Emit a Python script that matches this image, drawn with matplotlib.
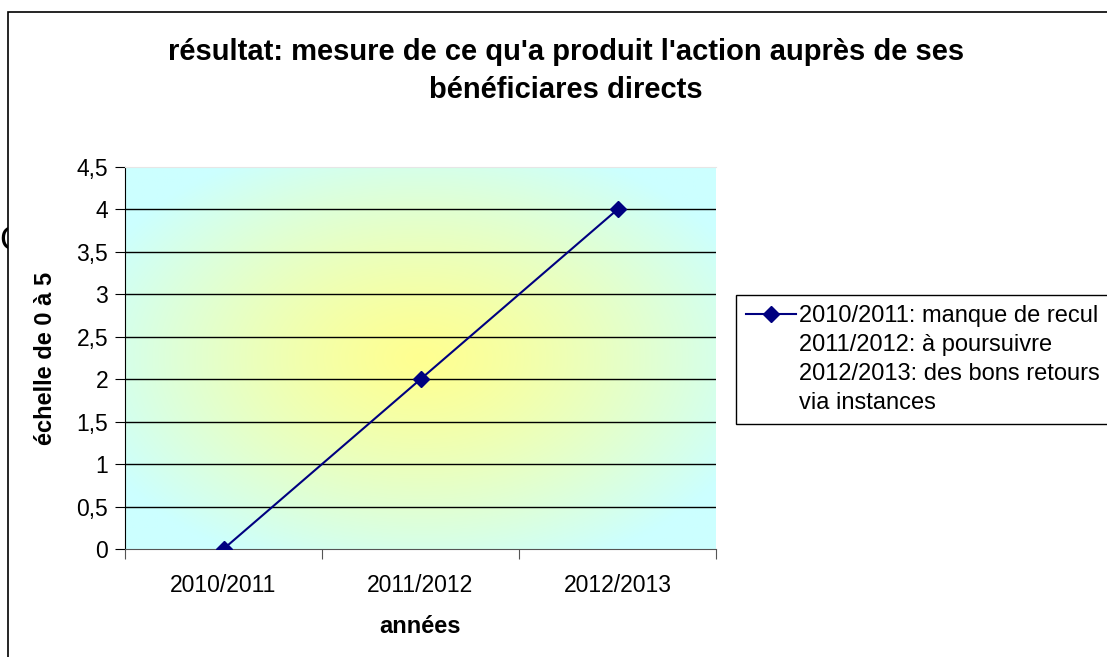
import matplotlib
matplotlib.use("Agg")
import matplotlib.pyplot as plt
from matplotlib.patches import Rectangle
from matplotlib.lines import Line2D
import numpy as np

plt.rcParams['font.family'] = ['Liberation Sans', 'DejaVu Sans']

years = ['2010/2011', '2011/2012', '2012/2013']
scores = [0, 2, 4]
y_ticks = [0, 0.5, 1, 1.5, 2, 2.5, 3, 3.5, 4, 4.5]
y_labels = ['0', '0,5', '1', '1,5', '2', '2,5', '3', '3,5', '4', '4,5']
legend_lines = ['2010/2011: manque de recul', '2011/2012: à poursuivre',
                '2012/2013: des bons retours', 'via instances']
title = ("résultat: mesure de ce qu'a produit l'action auprès de ses\n"
         "bénéficiares directs")

W, H = 1107, 657
fig = plt.figure(figsize=(W / 100, H / 100), dpi=100)

# stray letter behind the chart box, then the chart box itself
fig.text(-1 / W, 1 - 241 / H, 'C', fontsize=25, ha='left', va='center', zorder=-2)
fig.patches.append(Rectangle((8 / W, -0.2), 1.2, 1.2 - 12 / H,
                             transform=fig.transFigure, facecolor='white',
                             edgecolor='black', linewidth=1.2, zorder=-1))

ax = fig.add_axes([125 / W, 1 - 549 / H, (716 - 125) / W, (549 - 167) / H])
x = np.arange(len(years))

# yellow centre fading to pale cyan
gx, gy = np.meshgrid(np.linspace(-1, 1, 300), np.linspace(-1, 1, 200))
d = np.clip(np.sqrt(gx ** 2 + gy ** 2) / 1.2, 0, 1) ** 1.25
c_mid = np.array([255, 255, 145]) / 255
c_out = np.array([204, 255, 255]) / 255
img = c_mid[None, None, :] * (1 - d[..., None]) + c_out[None, None, :] * d[..., None]
ax.imshow(img, extent=[-0.5, 2.5, 0, 4.5], aspect='auto', zorder=0)

for yv in y_ticks[1:-1]:
    ax.axhline(yv, color='black', linewidth=1, zorder=1)

line, = ax.plot(x, scores, color='#000080', marker='D', markersize=8.5,
                linewidth=1.5, zorder=3)

ax.set_xlim(-0.5, 2.5)
ax.set_ylim(0, 4.5)
ax.set_yticks(y_ticks)
ax.set_yticklabels(y_labels, fontsize=16.5)
ax.set_xticks([-0.5, 0.5, 1.5, 2.5])
ax.set_xticklabels([])
ax.set_xticks(x, minor=True)
ax.set_xticklabels(years, minor=True, fontsize=16.5)
ax.tick_params(axis='x', which='major', direction='out', length=7, color='#555555')
ax.tick_params(axis='x', which='minor', length=0, pad=18)
ax.tick_params(axis='y', direction='out', length=7, pad=5)

ax.spines['right'].set_visible(False)
ax.spines['top'].set_color('#e6e6e6')
ax.spines['left'].set_color('black')
ax.spines['bottom'].set_color('#555555')

ax.set_xlabel('années', fontsize=17, fontweight='bold', labelpad=13)
ax.set_ylabel('échelle de 0 à 5', fontsize=17, fontweight='bold', labelpad=14)

fig.text(566 / W, 1 - 71 / H, title, ha='center', va='center', fontsize=21,
         fontweight='bold', linespacing=1.5)

# one legend entry whose label wraps over four lines: handle sits on the first
blank = Line2D([], [], linestyle='none')
ax.legend([line, blank, blank, blank], legend_lines, loc='upper left',
          bbox_to_anchor=(736 / W, 1 - 295 / H), bbox_transform=fig.transFigure,
          fontsize=17, frameon=True, fancybox=False, edgecolor='black',
          framealpha=1, borderpad=0.42, labelspacing=0.3,
          handlelength=2.1, handletextpad=0.15, borderaxespad=0)

fig.savefig('out.png', dpi=100)
